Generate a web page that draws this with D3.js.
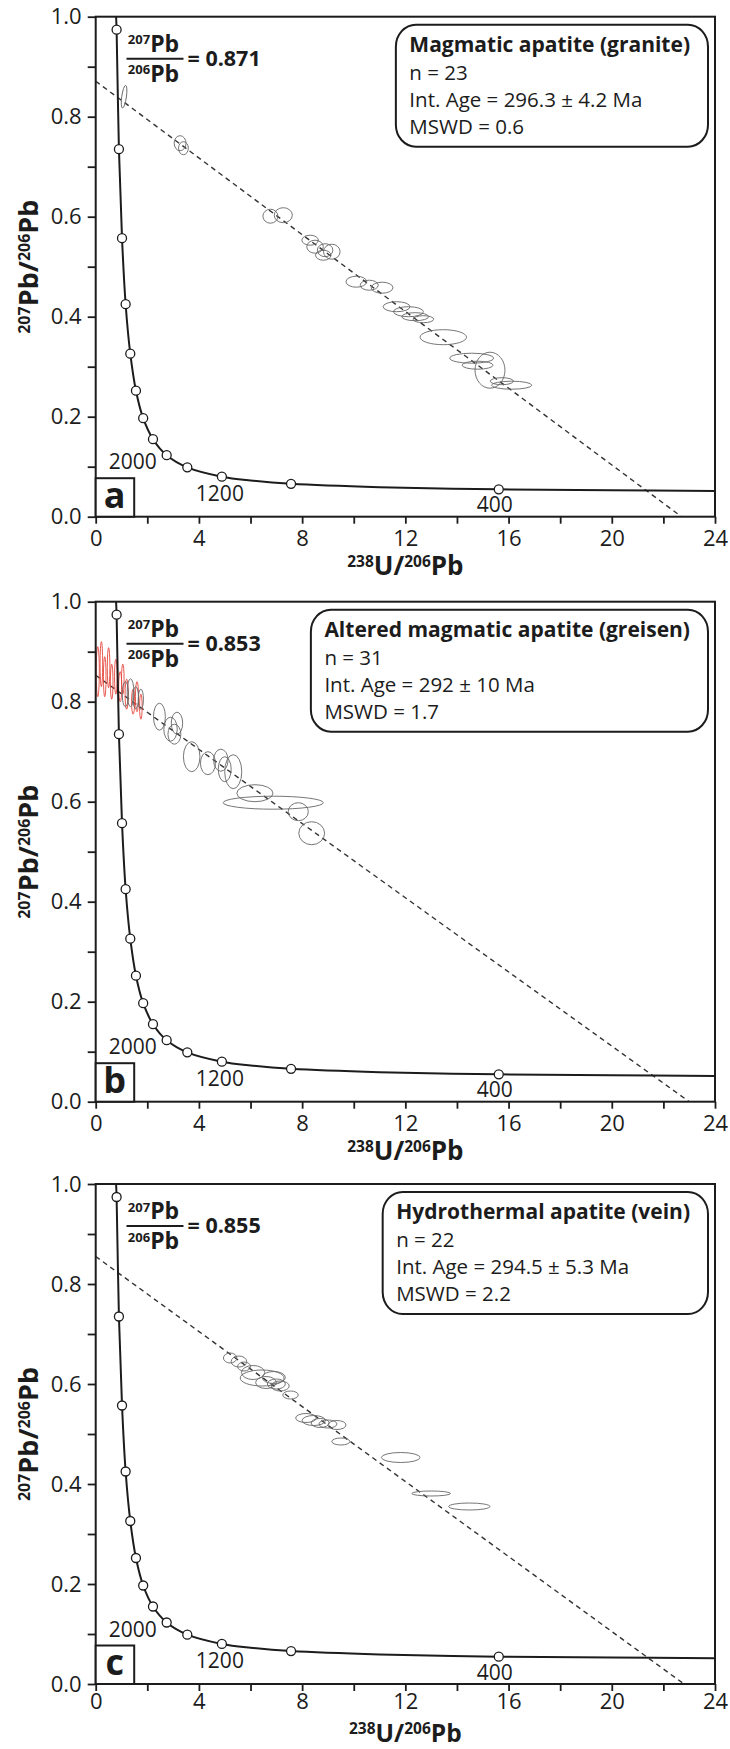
<!DOCTYPE html>
<html><head><meta charset="utf-8">
<script src="https://cdn.jsdelivr.net/npm/d3@7"></script>
<style>
body{margin:0;background:#fff}
text{font-family:"Open Sans",sans-serif;fill:#1c1c1c}
</style>
</head><body>
<svg id="chart" width="730" height="1749"></svg>
<script>
// ---------------- DATA ----------------
const panelLetters = ["a", "b", "c"];
const interceptRatio = [0.871, 0.853, 0.855];          // 207Pb/206Pb upper intercept
const lowerXIntercept = [22.7, 23.0, 22.8];           // where dashed regression meets y = 0
const boxTitles = ["Magmatic apatite (granite)", "Altered magmatic apatite (greisen)", "Hydrothermal apatite (vein)"];
const nCounts = [23, 31, 22];
const ageTexts = ["296.3 ± 4.2", "292 ± 10", "294.5 ± 5.3"];
const mswdValues = ["0.6", "1.7", "2.2"];

const xTicks = [0, 2, 4, 6, 8, 10, 12, 14, 16, 18, 20, 22, 24];
const yTicks = [0, 0.1, 0.2, 0.3, 0.4, 0.5, 0.6, 0.7, 0.8, 0.9, 1.0];

// Concordia age markers (Ma)
const concordiaAges = [400, 800, 1200, 1600, 2000, 2400, 2800, 3200, 3600, 4000, 4400, 4800, 5200];
const concordiaX = [15.62, 7.57, 4.89, 3.55, 2.75, 2.22, 1.84, 1.56, 1.34, 1.16, 1.02, 0.90, 0.81];
const concordiaY = [0.0547, 0.0658, 0.0801, 0.0987, 0.123, 0.155, 0.197, 0.252, 0.326, 0.425, 0.557, 0.735, 0.974];
const concordiaLabelAges = [2000, 1200, 400];
// extra points along the concordia trace
const curveExtraX = [24, 20, 11.0, 6.0, 0.79];
const curveExtraY = [0.0516, 0.0530, 0.0590, 0.0725, 1.0];

// Error ellipses: [x, y, semi-axis x, semi-axis y, tilt deg]
const ellipsesA = [
  [1.10, 0.840, 0.09, 0.023, 8],
  [3.27, 0.747, 0.23, 0.015, 0],
  [3.40, 0.737, 0.19, 0.013, 0],
  [6.77, 0.601, 0.29, 0.014, 0],
  [7.27, 0.603, 0.35, 0.015, 0],
  [8.31, 0.553, 0.32, 0.010, 0],
  [8.50, 0.540, 0.32, 0.013, 0],
  [8.82, 0.523, 0.30, 0.010, 0],
  [8.89, 0.533, 0.30, 0.013, 0],
  [9.15, 0.530, 0.32, 0.015, 0],
  [10.1, 0.470, 0.40, 0.011, 0],
  [10.6, 0.463, 0.35, 0.010, 0],
  [11.1, 0.458, 0.42, 0.011, 0],
  [11.66, 0.420, 0.52, 0.010, 0],
  [12.12, 0.410, 0.58, 0.010, 0],
  [12.38, 0.400, 0.52, 0.008, 0],
  [12.70, 0.395, 0.40, 0.007, 0],
  [13.47, 0.359, 0.90, 0.015, 0],
  [14.57, 0.317, 0.85, 0.010, 0],
  [14.80, 0.303, 0.60, 0.008, 0],
  [15.28, 0.293, 0.58, 0.036, 0],
  [15.74, 0.271, 0.45, 0.007, 0],
  [16.12, 0.263, 0.78, 0.008, 0]
];
const ellipsesBRed = [
  [0.08, 0.860, 0.06, 0.050, 0],
  [0.22, 0.875, 0.05, 0.045, 0],
  [0.35, 0.850, 0.05, 0.040, 0],
  [0.50, 0.868, 0.05, 0.040, 0],
  [0.62, 0.840, 0.05, 0.035, 0],
  [0.78, 0.850, 0.05, 0.035, 0],
  [0.95, 0.830, 0.06, 0.030, 0],
  [1.05, 0.845, 0.05, 0.030, 0],
  [1.20, 0.815, 0.06, 0.030, 0],
  [1.45, 0.800, 0.06, 0.025, 0],
  [1.60, 0.810, 0.06, 0.030, 0],
  [1.75, 0.790, 0.05, 0.025, 0]
];
const ellipsesB = [
  [1.15, 0.815, 0.12, 0.025, 0],
  [1.35, 0.818, 0.13, 0.028, 0],
  [1.55, 0.808, 0.11, 0.022, 0],
  [1.75, 0.805, 0.10, 0.020, 0],
  [2.47, 0.770, 0.23, 0.027, 0],
  [2.90, 0.745, 0.26, 0.024, 0],
  [3.15, 0.757, 0.22, 0.022, 0],
  [3.05, 0.735, 0.25, 0.020, 0],
  [3.72, 0.690, 0.32, 0.030, 0],
  [4.35, 0.677, 0.29, 0.023, 0],
  [4.85, 0.683, 0.28, 0.022, 0],
  [5.00, 0.665, 0.25, 0.025, 0],
  [5.33, 0.660, 0.33, 0.034, 0],
  [6.17, 0.617, 0.70, 0.017, 0],
  [6.88, 0.598, 1.94, 0.013, 0],
  [7.85, 0.580, 0.39, 0.018, 0],
  [8.37, 0.537, 0.50, 0.023, 0]
];
const ellipsesC = [
  [5.21, 0.652, 0.26, 0.010, 0],
  [5.55, 0.645, 0.30, 0.011, 0],
  [5.75, 0.635, 0.25, 0.009, 0],
  [6.10, 0.623, 0.45, 0.014, 0],
  [6.45, 0.612, 0.85, 0.016, 0],
  [6.60, 0.603, 0.40, 0.012, 0],
  [6.90, 0.613, 0.45, 0.012, 0],
  [7.00, 0.600, 0.35, 0.010, 0],
  [7.15, 0.596, 0.35, 0.010, 0],
  [7.55, 0.578, 0.30, 0.008, 0],
  [8.15, 0.532, 0.40, 0.009, 0],
  [8.45, 0.527, 0.45, 0.010, 0],
  [8.70, 0.522, 0.35, 0.009, 0],
  [9.00, 0.520, 0.35, 0.008, 0],
  [9.35, 0.518, 0.35, 0.009, 0],
  [9.50, 0.485, 0.35, 0.007, 0],
  [11.82, 0.453, 0.75, 0.010, 0],
  [13.00, 0.381, 0.75, 0.005, 0],
  [14.48, 0.355, 0.80, 0.007, 0]
];
const ellipseSets = [ellipsesA, ellipsesB, ellipsesC];

// ---------------- LAYOUT ----------------
const L = 95.7, R = 715, H = 500;
const tops = [16.7, 601.7, 1184];
const titleGap = [58, 58, 57.5];
const tickPad = [7, 7, 2];
const titleSize = [26, 26, 24.5];
const INK = "#1c1c1c";

const svg = d3.select("#chart");
svg.append("rect").attr("width", 730).attr("height", 1749).attr("fill", "#fff");

function richText(parent, x, y, parts, opt) {
  const t = parent.append("text").attr("x", x).attr("y", y)
    .attr("font-size", opt.size).attr("font-weight", opt.weight || 400)
    .attr("text-anchor", opt.anchor || "start");
  if (opt.rotate) t.attr("transform", `rotate(${opt.rotate},${x},${y})`);
  let raised = false;
  parts.forEach(p => {
    const ts = t.append("tspan").text(p.t);
    if (p.sup) { ts.attr("font-size", opt.supSize).attr("dy", -opt.raise); raised = true; }
    else if (raised) { ts.attr("dy", opt.raise); raised = false; }
  });
  return t;
}

const curvePts = concordiaX.map((v, k) => [v, concordiaY[k]])
  .concat(curveExtraX.map((v, k) => [v, curveExtraY[k]]))
  .sort((p, q) => p[0] - q[0]);
const markers = concordiaAges.map((a, k) => ({age: a, x: concordiaX[k], y: concordiaY[k]}));
const labelOffset = {2000: [-34, 14], 1200: [-2, 24], 400: [-4, 23]};

panelLetters.forEach((letter, i) => {
  const top = tops[i];
  const x = d3.scaleLinear().domain([0, 24]).range([L, R]);
  const y = d3.scaleLinear().domain([0, 1]).range([top + H, top]);
  const g = svg.append("g");

  const clipId = "clip" + i;
  svg.append("clipPath").attr("id", clipId).append("rect")
    .attr("x", L).attr("y", top).attr("width", R - L).attr("height", H);
  const plot = g.append("g").attr("clip-path", `url(#${clipId})`);

  // discordia (dashed regression)
  plot.append("path")
    .datum([[0, interceptRatio[i]], [lowerXIntercept[i], 0]])
    .attr("d", d3.line().x(d => x(d[0])).y(d => y(d[1])))
    .attr("fill", "none").attr("stroke", "#333").attr("stroke-width", 1.4)
    .attr("stroke-dasharray", "5,4");

  // ellipses
  const drawEll = (data, color) => plot.append("g").selectAll("ellipse").data(data).join("ellipse")
    .attr("cx", d => x(d[0])).attr("cy", d => y(d[1]))
    .attr("rx", d => x(d[2]) - x(0)).attr("ry", d => y(0) - y(d[3]))
    .attr("transform", d => `rotate(${d[4]},${x(d[0])},${y(d[1])})`)
    .attr("fill", "none").attr("stroke", color).attr("stroke-width", 0.9);
  if (i === 1) drawEll(ellipsesBRed, "#e5463c");
  drawEll(ellipseSets[i], "#666");

  // concordia
  plot.append("path").datum(curvePts)
    .attr("d", d3.line().x(d => x(d[0])).y(d => y(d[1])).curve(d3.curveCatmullRom.alpha(0.5)))
    .attr("fill", "none").attr("stroke", INK).attr("stroke-width", 2);
  plot.append("g").selectAll("circle").data(markers).join("circle")
    .attr("cx", d => x(d.x)).attr("cy", d => y(d.y)).attr("r", 4.5)
    .attr("fill", "#fff").attr("stroke", INK).attr("stroke-width", 1.3);

  // age labels
  g.append("g").selectAll("text").data(markers.filter(m => concordiaLabelAges.includes(m.age))).join("text")
    .attr("x", d => x(d.x) + labelOffset[d.age][0]).attr("y", d => y(d.y) + labelOffset[d.age][1])
    .attr("text-anchor", "middle").attr("font-size", 21).text(d => d.age);

  // frame
  g.append("rect").attr("x", L).attr("y", top).attr("width", R - L).attr("height", H)
    .attr("fill", "none").attr("stroke", INK).attr("stroke-width", 2);

  // axes
  const yAxis = d3.axisLeft(y).tickValues(yTicks).tickSize(8).tickPadding(6)
    .tickFormat(d => (Math.round(d * 10) % 2 === 0) ? d3.format(".1f")(d) : "");
  const ya = g.append("g").attr("transform", `translate(${L},0)`).call(yAxis);
  ya.select(".domain").remove();
  ya.selectAll("line").attr("stroke", INK).attr("stroke-width", 1.8);
  ya.selectAll("text").attr("font-size", 22).attr("font-family", "Open Sans").attr("fill", "#333");

  const xAxis = d3.axisBottom(x).tickValues(xTicks).tickSize(7).tickPadding(tickPad[i])
    .tickFormat(d => d % 4 === 0 ? d : "");
  const xa = g.append("g").attr("transform", `translate(0,${top + H})`).call(xAxis);
  xa.select(".domain").remove();
  xa.selectAll("line").attr("stroke", INK).attr("stroke-width", 1.8);
  xa.selectAll("text").attr("font-size", 22).attr("font-family", "Open Sans").attr("fill", "#333");

  // axis titles
  richText(g, (L + R) / 2, top + H + titleGap[i],
    [{t: "238", sup: true}, {t: "U/"}, {t: "206", sup: true}, {t: "Pb"}],
    {size: titleSize[i], weight: 700, supSize: 15.5, raise: 7.5, anchor: "middle"});
  richText(g, 38, top + H / 2,
    [{t: "207", sup: true}, {t: "Pb/"}, {t: "206", sup: true}, {t: "Pb"}],
    {size: 27, weight: 700, supSize: 16, raise: 8, anchor: "middle", rotate: -90});

  // ratio fraction
  const fx = 126.5;
  richText(g, fx + 27, top + 35, [{t: "207", sup: true}, {t: "Pb"}],
    {size: 23, weight: 700, supSize: 13, raise: 7.5, anchor: "middle"});
  g.append("line").attr("x1", fx).attr("x2", fx + 57).attr("y1", top + 42).attr("y2", top + 42)
    .attr("stroke", INK).attr("stroke-width", 2);
  richText(g, fx + 27, top + 65, [{t: "206", sup: true}, {t: "Pb"}],
    {size: 23, weight: 700, supSize: 13, raise: 7.5, anchor: "middle"});
  g.append("text").attr("x", fx + 61).attr("y", top + 49).attr("font-size", 21.5)
    .attr("font-weight", 700).text("= " + d3.format(".3f")(interceptRatio[i]));

  // info box
  const bg = g.append("g");
  const boxRect = bg.append("rect");
  const tTitle = bg.append("text").attr("font-size", 21).attr("font-weight", 700).text(boxTitles[i]);
  const tw = tTitle.node().getComputedTextLength();
  const tx = R - 7 - 18 - tw;
  tTitle.attr("x", tx).attr("y", top + 35);
  const lines = ["n = " + nCounts[i], "Int. Age = " + ageTexts[i] + " Ma", "MSWD = " + mswdValues[i]];
  lines.forEach((s, k) => bg.append("text").attr("x", tx).attr("y", top + 63 + k * 27)
    .attr("font-size", 20.5).attr("fill", "#2a2a2a").text(s));
  boxRect.attr("x", tx - 13.5).attr("y", top + 8).attr("width", R - 7 - (tx - 13.5)).attr("height", 122)
    .attr("rx", 20).attr("ry", 22).attr("fill", "#fff").attr("stroke", INK).attr("stroke-width", 2);

  // panel letter box
  g.append("rect").attr("x", L).attr("y", top + H - 38.5).attr("width", 38.5).attr("height", 38.5)
    .attr("fill", "#fff").attr("stroke", INK).attr("stroke-width", 2);
  g.append("text").attr("x", L + 19).attr("y", top + H - 9).attr("text-anchor", "middle")
    .attr("font-size", 36).attr("font-weight", 700).text(letter);
});
</script>
</body></html>
